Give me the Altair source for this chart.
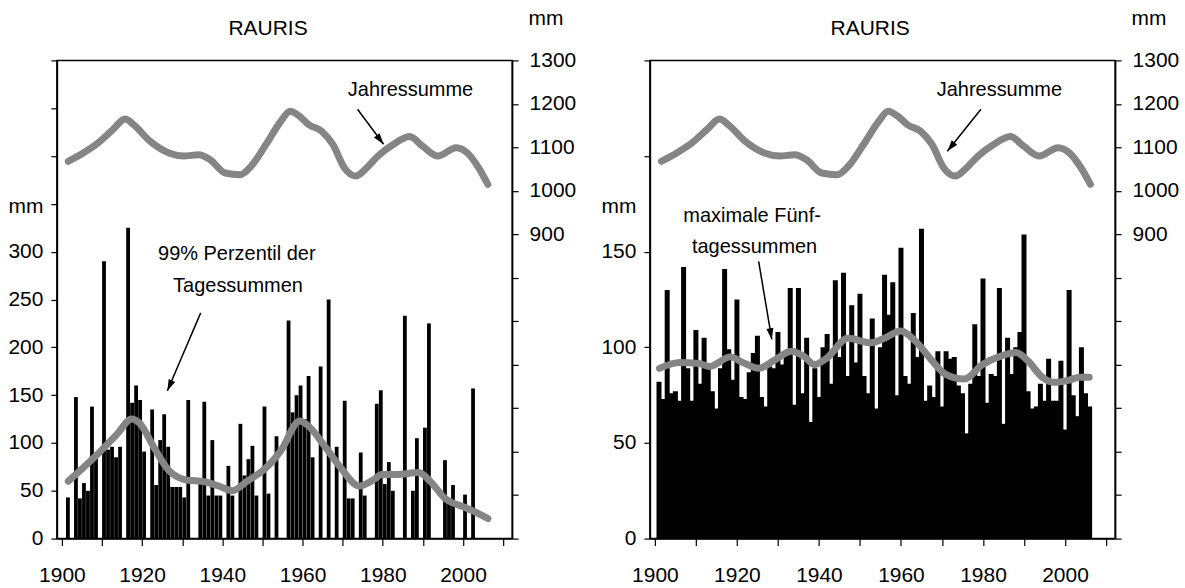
import altair as alt
import pandas as pd

FONT = "Liberation Sans"
FS = 21
GRAY = "#858585"
H = 479
W_L = 456
W_R = 466
ARROW = "M0,0L0.5,1.6L-0.5,1.6Z"

# ---------------- data ----------------
years = list(range(1901, 2007))

# 99% Perzentil der Tagessummen (left panel bars), 1901-2006
p99 = [
    43, 0, 148, 42, 58, 50, 138, 88, 0, 290,
    93, 96, 85, 96, 0, 325, 142, 160, 145, 91,
    0, 135, 56, 103, 130, 96, 54, 54, 54, 43,
    145, 0, 0, 58, 143, 45, 103, 45, 45, 0,
    76, 45, 0, 120, 66, 83, 97, 45, 0, 138,
    47, 0, 107, 0, 0, 228, 132, 150, 160, 125,
    170, 85, 0, 180, 0, 250, 0, 96, 0, 144,
    42, 42, 0, 90, 45, 0, 0, 141, 155, 57,
    80, 50, 0, 0, 233, 0, 50, 105, 0, 116,
    225, 0, 0, 0, 82, 38, 56, 0, 0, 46,
    0, 157, 0, 0, 0, 0,
]

# maximale Fuenftagessummen (right panel bars), 1901-2006
max5 = [
    82, 73, 130, 76, 77, 72, 142, 89, 72, 109,
    81, 105, 89, 77, 68, 89, 141, 99, 83, 125,
    74, 73, 87, 97, 106, 74, 69, 90, 89, 108,
    91, 97, 131, 70, 131, 76, 105, 61, 89, 74,
    100, 107, 81, 135, 95, 139, 85, 122, 92, 128,
    85, 76, 115, 68, 100, 138, 117, 134, 75, 152,
    85, 81, 118, 95, 162, 72, 80, 74, 98, 69,
    98, 94, 95, 80, 76, 55, 81, 112, 85, 136,
    71, 86, 85, 131, 60, 105, 86, 100, 108, 159,
    77, 68, 69, 81, 72, 94, 72, 72, 93, 57,
    130, 75, 64, 100, 76, 69,
]

# smoothed Jahressumme (right axis, both panels)
jahr_years = [1901.6, 1905.3, 1909, 1912.7, 1915.8, 1917.9, 1922, 1926.7, 1930.4,
              1934.1, 1936.9, 1940.7, 1944.4, 1947.2, 1950.9, 1954.6, 1956.9, 1959.3,
              1961.6, 1964.8, 1967.6, 1970.4, 1973.2, 1976, 1978.8, 1982.5, 1986.7,
              1990, 1993.7, 1998.3, 2001.1, 2003.9, 2006.2]
jahr_mm = [1068, 1087, 1110, 1141, 1165, 1152, 1114, 1087, 1080,
           1083, 1072, 1041, 1037, 1057, 1107, 1160, 1183, 1171,
           1152, 1137, 1106, 1053, 1034, 1053, 1080, 1106, 1125,
           1102, 1080, 1099, 1087, 1053, 1015]

# smoothed 99% percentile (left panel)
p99_sm_years = [1901.6, 1908.1, 1913.7, 1917.4, 1919.3, 1923, 1926.7, 1930.4, 1936,
                1939.7, 1942.5, 1946.2, 1950.9, 1954.6, 1959.3, 1961.1, 1965.8, 1969.5,
                1974.1, 1977.9, 1979.7, 1983.4, 1989, 1991.8, 1995.5, 2000.2, 2003, 2006.2]
p99_sm = [60, 85, 109, 125, 121, 95, 71, 62, 59,
          54, 50, 60, 74, 92, 123, 119, 95, 74,
          55, 62, 67, 67, 69, 60, 42, 33, 28, 21]

# smoothed max. 5-day sums (right panel)
max5_sm_years = [1901.1, 1906.1, 1910.7, 1913.4, 1918.4, 1921.5, 1925.3, 1929, 1933.3,
                 1936.5, 1938.9, 1941.7, 1947.1, 1952.6, 1956.2, 1959.9, 1963.5, 1967.2,
                 1970.8, 1975.4, 1979.9, 1984.5, 1988.1, 1990.9, 1994.5, 1997.3, 2000.9,
                 2003.6, 2005.9]
max5_sm = [89, 92, 91.5, 90, 95, 92, 89, 93, 98,
           95, 91, 94, 104.7, 102.4, 105, 108.5, 103.3, 94,
           86, 83.4, 91, 95.5, 97.3, 93, 84.3, 81.7, 82.8,
           84.3, 84.3]

# annotation texts
p99_labels = ["99% Perzentil der", "Tagessummen"]
max5_labels = ["maximale Fünf-", "tagessummen"]
jahr_label = ["Jahressumme"]

# ---------------- axes ----------------
XAXIS = alt.Axis(values=list(range(1900, 2011, 10)), format="d",
                 labelExpr="(datum.value % 20 == 0 && datum.value <= 2000) ? datum.label : ''",
                 tickSize=7, tickWidth=1.2, tickColor="black", domainColor="black",
                 domainWidth=1.5, labelFont=FONT, labelFontSize=FS, labelColor="black",
                 labelPadding=19, grid=False, title=None, labelOverlap=False,
                 labelFlush=False)


def xenc(field):
    return alt.X(field, type="quantitative",
                 scale=alt.Scale(domain=[1900, 2011], nice=False, zero=False),
                 axis=XAXIS)


def left_axis(top, maxlab):
    return alt.Axis(orient="left", values=list(range(0, top + 1, 50)), format="d",
                    labelExpr=f"datum.value <= {maxlab} ? datum.label : ''",
                    tickSize=6, tickWidth=1.2, tickColor="black", domainColor="black",
                    domainWidth=1.5, labelFont=FONT, labelFontSize=FS, labelColor="black",
                    labelPadding=8, grid=False, labelFlush=False, labelOverlap=False,
                    title="mm", titleAngle=0, titleAlign="right", titleBaseline="middle",
                    titleX=-14, titleY=146, titleFont=FONT, titleFontSize=FS,
                    titleFontWeight="normal", titleColor="black")


RAXIS = alt.Axis(orient="right", values=list(range(200, 1301, 100)), format="d",
                 labelExpr="datum.value >= 900 ? datum.label : ''",
                 tickSize=6, tickWidth=1.2, tickColor="black", domainColor="black",
                 domainWidth=1.5, labelFont=FONT, labelFontSize=FS, labelColor="black",
                 labelPadding=11, grid=False, labelFlush=False, labelOverlap=False,
                 title="mm", titleAngle=0, titleAlign="left", titleBaseline="middle",
                 titleX=16, titleY=-42, titleFont=FONT, titleFontSize=FS,
                 titleFontWeight="normal", titleColor="black")
RSCALE = alt.Scale(domain=[200, 1300], nice=False, zero=False)


def yleft(field, top, maxlab):
    return alt.Y(field, type="quantitative",
                 scale=alt.Scale(domain=[0, top], nice=False, zero=True),
                 axis=left_axis(top, maxlab))


def yright(field):
    return alt.Y(field, type="quantitative", scale=RSCALE, axis=RAXIS)


def arrow_layers(df, yfun):
    rule = alt.Chart(df).mark_rule(color="black", strokeWidth=1.5).encode(
        x=xenc("x1"), x2="x2:Q", y=yfun("y1"), y2="y2:Q")
    head = alt.Chart(df).mark_point(shape=ARROW, filled=True, size=200, color="black",
                                    opacity=1, strokeWidth=0).encode(
        x=xenc("x2"), y=yfun("y2"), angle=alt.Angle("a:Q", scale=None))
    return [rule, head]


def text_layer(df, yfun):
    return alt.Chart(df).mark_text(font=FONT, fontSize=FS - 1, color="black",
                                   baseline="middle", align="center").encode(
        x=xenc("x"), y=yfun("y"), text="t:N")


def panel(bar_vals, bar_w, shift, top, maxlab, sm_years, sm_vals, labels, lab_pos,
          arrow_l, jahr_text_pos, arrow_r, width, title_x):
    yl = lambda f: yleft(f, top, maxlab)
    bdf = pd.DataFrame({"year": years, "v": bar_vals})
    bars = (alt.Chart(bdf)
            .transform_filter("datum.v > 0")
            .transform_calculate(xc=f"datum.year + {shift}")
            .mark_bar(width=bar_w, color="black")
            .encode(x=xenc("xc"), y=yl("v")))
    smooth = alt.Chart(pd.DataFrame({"year": sm_years, "v": sm_vals})).mark_line(
        color=GRAY, strokeWidth=7, strokeCap="round", strokeJoin="round",
        interpolate="monotone").encode(x=xenc("year"), y=yl("v"))
    ltxt = text_layer(pd.DataFrame({"x": [p[0] for p in lab_pos],
                                    "y": [p[1] for p in lab_pos],
                                    "t": labels}), yl)
    larrow = arrow_layers(pd.DataFrame([arrow_l]), yl)
    title = alt.Chart(pd.DataFrame({"t": ["RAURIS"]})).mark_text(
        font=FONT, fontSize=FS, color="black", baseline="middle", align="center").encode(
        text="t:N", x=alt.value(title_x), y=alt.value(-31))
    left_grp = alt.layer(bars, smooth, ltxt, *larrow, title)

    jline = alt.Chart(pd.DataFrame({"year": jahr_years, "v": jahr_mm})).mark_line(
        color=GRAY, strokeWidth=7, strokeCap="round", strokeJoin="round",
        interpolate="monotone").encode(x=xenc("year"), y=yright("v"))
    jtxt = text_layer(pd.DataFrame({"x": [jahr_text_pos[0]], "y": [jahr_text_pos[1]],
                                    "t": jahr_label}), yright)
    rarrow = arrow_layers(pd.DataFrame([arrow_r]), yright)
    right_grp = alt.layer(jline, jtxt, *rarrow)

    return (alt.layer(left_grp, right_grp)
            .resolve_scale(y="independent")
            .properties(width=width, height=H))


left = panel(p99, 3.8, 0.5, 500, 300, p99_sm_years, p99_sm, p99_labels,
             [(1943.6, 297.5), (1943.9, 264)],
             {"x1": 1934.6, "y1": 236, "x2": 1926.3, "y2": 154.5, "a": 203.7},
             (1986.9, 1231),
             {"x1": 1973.7, "y1": 1187.5, "x2": 1980.2, "y2": 1107, "a": 142.6},
             W_L, 211.5)

right = panel(max5, 5.0, 0.0, 250, 150, max5_sm_years, max5_sm, max5_labels,
              [(1923.7, 168.6), (1924.3, 152.6)],
              {"x1": 1925.3, "y1": 144.9, "x2": 1928.5, "y2": 104.1, "a": 170.3},
              (1984, 1231),
              {"x1": 1979.5, "y1": 1187.5, "x2": 1971.3, "y2": 1091, "a": 219.3},
              W_R, 220.6)

chart = (alt.hconcat(left, right, spacing=138, bounds="flush")
         .properties(padding={"left": 7, "top": 6, "right": 5, "bottom": 5},
                     background="white")
         .configure_view(stroke="black", strokeWidth=1.5))

chart.save("out.html", embed_options={"renderer": "svg", "actions": False})
